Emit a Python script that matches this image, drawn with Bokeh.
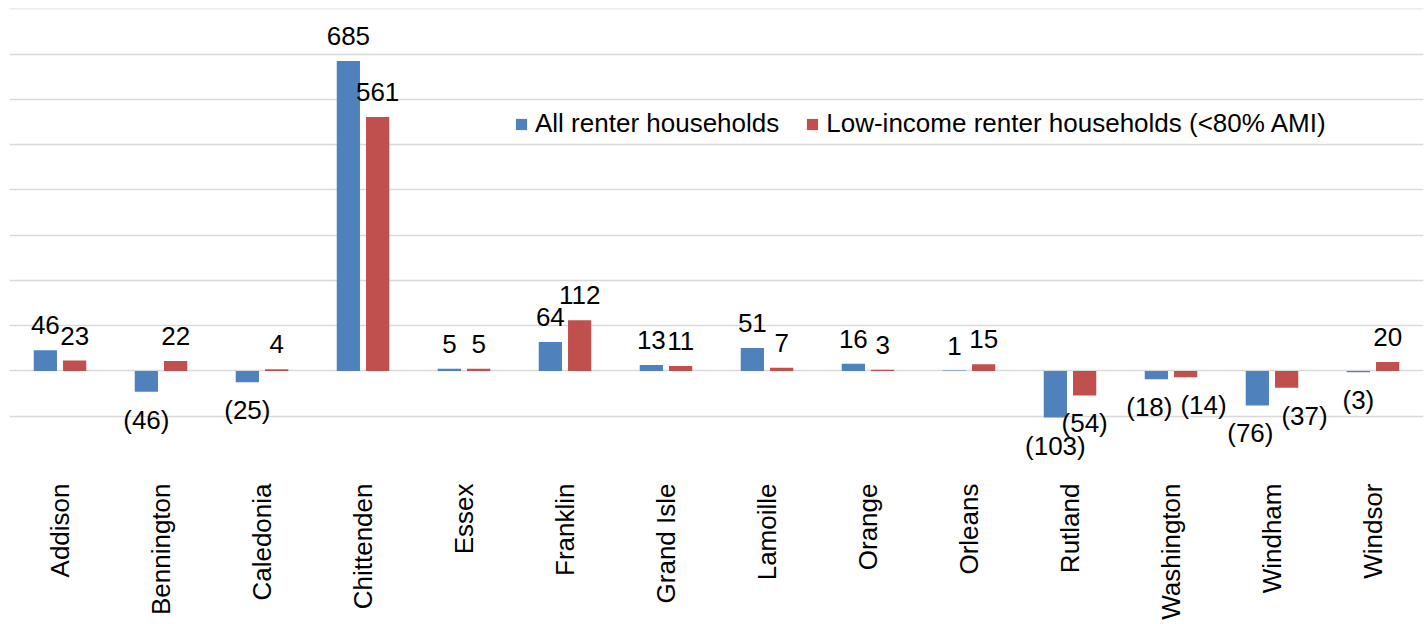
import math
from bokeh.plotting import figure
from bokeh.models import (ColumnDataSource, FactorRange, Range1d, Legend,
                          LegendItem, FixedTicker)
from bokeh.transform import dodge
from bokeh.core.properties import value, field
from bokeh.embed import file_html
from bokeh.resources import INLINE

# ---------------- data ----------------
counties = ["Addison", "Bennington", "Caledonia", "Chittenden", "Essex",
            "Franklin", "Grand Isle", "Lamoille", "Orange", "Orleans",
            "Rutland", "Washington", "Windham", "Windsor"]
all_renters = [46, -46, -25, 685, 5, 64, 13, 51, 16, 1, -103, -18, -76, -3]
low_income = [23, 22, 4, 561, 5, 112, 11, 7, 3, 15, -54, -14, -37, 20]
series_names = ["All renter households",
                "Low-income renter households (<80% AMI)"]
y_ticks = [-200, -100, 0, 100, 200, 300, 400, 500, 600, 700, 800]

# ---------------- style ----------------
BLUE = "#4F81BD"
RED = "#C0504D"
FONT = "Liberation Sans"
FS = 26
GRID = "#D9D9D9"
DODGE = 0.145
BAR_W = 0.23
FRAME_H = 453
PX_PER_UNIT = FRAME_H / 1001.0


def fmt(v):
    return f"({abs(v)})" if v < 0 else f"{v}"


def est_width(s):
    w = 0.0
    for ch in s:
        w += 0.333 * FS if ch in "()" else 0.556 * FS
    return w


def label_cols(vals):
    lbl = [fmt(v) for v in vals]
    base = ["top" if v < 0 else "bottom" for v in vals]
    yoff = [13 if v < 0 else -16 for v in vals]
    return lbl, base, yoff


a_lbl, a_base, a_yoff = label_cols(all_renters)
l_lbl, l_base, l_yoff = label_cols(low_income)

# spread apart negative label pairs that would collide
cat_px = 1414 / len(counties)
bar_gap_px = 2 * DODGE * cat_px
a_xoff, l_xoff = [], []
for va, vl, sa, sl in zip(all_renters, low_income, a_lbl, l_lbl):
    xa, xl = 0, 0
    if va < 0 and vl < 0:
        need = (est_width(sa) + est_width(sl)) / 2 + 8
        vert = abs(va - vl) * PX_PER_UNIT
        if need > bar_gap_px and vert < 20:
            extra = need - bar_gap_px
            xa = -7
            xl = extra - 7
    a_xoff.append(xa)
    l_xoff.append(xl)

src = ColumnDataSource(dict(
    cat=counties, all=all_renters, low=low_income,
    a_lbl=a_lbl, a_base=a_base, a_yoff=a_yoff, a_xoff=a_xoff,
    l_lbl=l_lbl, l_base=l_base, l_yoff=l_yoff, l_xoff=l_xoff,
))

p = figure(width=1428, height=624,
           x_range=FactorRange(*counties, range_padding=0),
           y_range=Range1d(-200, 801),
           output_backend="svg", toolbar_location=None,
           min_border_left=9, min_border_right=5,
           min_border_top=8, min_border_bottom=163)
p.outline_line_color = None
p.background_fill_color = "white"
p.border_fill_color = "white"

p.yaxis.visible = False
p.yaxis.ticker = FixedTicker(ticks=y_ticks)
p.ygrid.ticker = FixedTicker(ticks=y_ticks)
p.ygrid.grid_line_color = GRID
p.ygrid.grid_line_width = 1.5
p.xgrid.visible = False

ax = p.xaxis[0]
ax.axis_line_color = None
ax.major_tick_line_color = None
ax.minor_tick_line_color = None
ax.major_tick_out = 0
ax.major_tick_in = 0
ax.major_label_orientation = math.pi / 2
ax.major_label_standoff = 22
ax.major_label_text_font = FONT
ax.major_label_text_font_size = f"{FS}px"
ax.major_label_text_color = "black"

r1 = p.vbar(x=dodge("cat", -DODGE, range=p.x_range), top="all", bottom=0,
            width=BAR_W, source=src, fill_color=BLUE, line_color=None)
r2 = p.vbar(x=dodge("cat", DODGE, range=p.x_range), top="low", bottom=0,
            width=BAR_W, source=src, fill_color=RED, line_color=None)

p.text(x=dodge("cat", -DODGE, range=p.x_range), y="all", text=field("a_lbl"),
       text_baseline=field("a_base"), y_offset=field("a_yoff"),
       x_offset=field("a_xoff"), text_align="center",
       text_font=value(FONT), text_font_size=f"{FS}px", text_color="black",
       source=src)
p.text(x=dodge("cat", DODGE, range=p.x_range), y="low", text=field("l_lbl"),
       text_baseline=field("l_base"), y_offset=field("l_yoff"),
       x_offset=field("l_xoff"), text_align="center",
       text_font=value(FONT), text_font_size=f"{FS}px", text_color="black",
       source=src)

legend = Legend(items=[LegendItem(label=series_names[0], renderers=[r1]),
                       LegendItem(label=series_names[1], renderers=[r2])],
                orientation="horizontal", location=(505, 322),
                label_text_font=FONT, label_text_font_size=f"{FS}px",
                label_text_color="black",
                glyph_width=14, glyph_height=14, label_standoff=7,
                spacing=26, padding=0, margin=0,
                border_line_color=None, background_fill_alpha=0)
p.add_layout(legend)

open("out.html", "w").write(file_html(p, INLINE))
